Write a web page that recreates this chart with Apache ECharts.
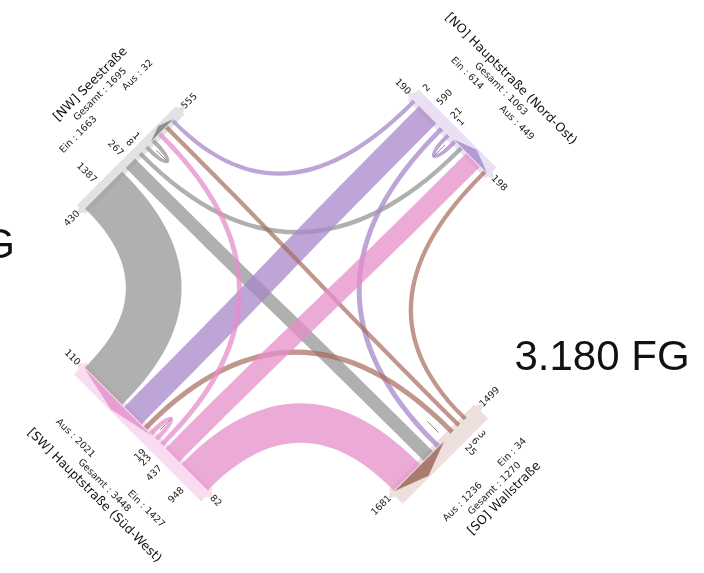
<!DOCTYPE html>
<html><head><meta charset="utf-8">
<script src="https://cdn.jsdelivr.net/npm/echarts@6/dist/echarts.min.js"></script>
<style>html,body{margin:0;padding:0;background:#fff}#c{width:704px;height:573px}</style>
</head><body><div id="c"></div>
<script>
// ---------------- data ----------------
const armNames = ['[NW] Seestraße', '[NO] Hauptstraße (Nord-Ost)', '[SO] Wallstraße', '[SW] Hauptstraße (Süd-West)'];
// flows from each arm, to [NW, NO, SO, SW]
const fromNW = [1, 8, 267, 1387];
const fromNO = [2, 1, 21, 590];
const fromSO = [6, 3, 0, 25];
const fromSW = [23, 437, 948, 19];
const endLabelsEin = [430, 190, 1499, 82];
const endLabelsAus = [555, 198, 1681, 110];
const fgTexts = ['3.180 FG', 'FG'];

// ---------------- layout / style ----------------
const M = [fromNW, fromNO, fromSO, fromSW];
const S2 = Math.SQRT2;
const L = {
  center: [298, 292],
  dist: [209.5, 217, 208, 204],
  gap: [5, 5, 5, 3],
  bandIn: 4,
  minHalf: 45,
  einAlong: [-44, -35, -38, -46],
  ausAlong: [40, 35, 32, 54]
};
const T_ = [[1,-1],[1,1],[-1,1],[-1,-1]].map(v => [v[0]/S2, v[1]/S2]);
const N_ = [[1,1],[-1,1],[-1,-1],[1,-1]].map(v => [v[0]/S2, v[1]/S2]);
const flowCol = ['rgba(150,150,150,0.75)', 'rgba(168,135,202,0.75)', 'rgba(165,105,92,0.7)', 'rgba(230,142,202,0.75)'];
const bandCol = ['#e2e2e2', '#e9e0f2', '#ecdfdc', '#f7ddef'];
const wedgeCol = ['rgba(135,135,135,0.9)', 'rgba(175,145,210,0.9)', 'rgba(165,112,100,0.9)', 'rgba(232,150,206,0.9)'];
const FONT = '"DejaVu Sans", sans-serif';

function widthOf(v) { return v > 0 ? 4 + 0.035 * v : 0; }
function P(i, along, depth) {
  const c = L.center, d = L.dist[i], t = T_[i], n = N_[i];
  return [c[0] - n[0]*d + t[0]*along + n[0]*depth, c[1] - n[1]*d + t[1]*along + n[1]*depth];
}
// stacking of flows along each arm (distance from the Ein/Aus boundary)
const ein = [[],[],[],[]], aus = [[],[],[],[]], einExt = [], ausExt = [];
for (let i = 0; i < 4; i++) {
  const g = L.gap[i];
  let pos = g / 2;
  for (const k of [0,1,2,3]) { const j = (i+k)%4; const w = widthOf(M[i][j]); ein[i][j] = [pos, pos+w]; pos += w + g; }
  einExt[i] = pos - g;
  pos = g / 2;
  for (const k of [0,3,2,1]) { const s = (i+k)%4; const w = widthOf(M[s][i]); aus[i][s] = [pos, pos+w]; pos += w + g; }
  ausExt[i] = pos - g;
}
const bandE = einExt.map(e => Math.max(e + 3, L.minHalf));
const bandA = ausExt.map(e => Math.max(e + 3, L.minHalf));
const sum = a => a.reduce((x, y) => x + y, 0);
const einTot = M.map(r => sum(r));
const ausTot = [0,1,2,3].map(i => sum(M.map(r => r[i])));
const share = [0,1,2,3].map(i => ausTot[i] / (einTot[i] + ausTot[i]));
const bandOut = share.map(s => -(8 + 8 * s));

const flowData = [];
for (let i = 0; i < 4; i++) for (let j = 0; j < 4; j++) if (M[i][j] > 0) flowData.push([i, j, M[i][j]]);

function readRot(v) { const r = v[0] > 0 || (v[0] === 0 && v[1] < 0) ? v : [-v[0], -v[1]]; return { r, rot: -Math.atan2(r[1], r[0]) }; }
function txt(p, str, rot, align, size, color) {
  return { type: 'text', x: p[0], y: p[1], rotation: rot,
    style: { text: String(str), fill: color || '#222', font: size + 'px ' + FONT,
      align: align, verticalAlign: 'middle', textAlign: align, textVerticalAlign: 'middle' } };
}
const pstr = p => p[0].toFixed(2) + ' ' + p[1].toFixed(2);
const dist = (a, b) => Math.hypot(a[0]-b[0], a[1]-b[1]);

function renderFlow(params, api) {
  const i = api.value(0), j = api.value(1);
  const cv = p => api.coord(p);
  const [e0, e1] = ein[i][j], [a0, a1] = aus[j][i];
  const d0 = 0, dc = L.bandIn;
  const Afo = P(i, -e1, d0), Afi = P(i, -e1, dc), Ano = P(i, -e0, d0), Ani = P(i, -e0, dc);
  const Bfo = P(j, a1, d0), Bfi = P(j, a1, dc), Bno = P(j, a0, d0), Bni = P(j, a0, dc);
  let k1, k2;
  if (i === j) { k1 = 30; k2 = Math.max(4, 30 - 1.4 * (e1 - e0)); }
  else { k1 = 0.47 * dist(Afi, Bfi); k2 = 0.47 * dist(Ani, Bni); }
  const ni = N_[i], nj = N_[j];
  const c1 = [Afi[0]+ni[0]*k1, Afi[1]+ni[1]*k1], c2 = [Bfi[0]+nj[0]*k1, Bfi[1]+nj[1]*k1];
  const c3 = [Bni[0]+nj[0]*k2, Bni[1]+nj[1]*k2], c4 = [Ani[0]+ni[0]*k2, Ani[1]+ni[1]*k2];
  const q = [Afo, Afi, c1, c2, Bfi, Bfo, Bno, Bni, c3, c4, Ani, Ano].map(cv).map(pstr);
  const d = `M${q[0]} L${q[1]} C${q[2]} ${q[3]} ${q[4]} L${q[5]} L${q[6]} L${q[7]} C${q[8]} ${q[9]} ${q[10]} L${q[11]} Z`;
  return { type: 'path', shape: { pathData: d }, style: { fill: flowCol[i], stroke: null } };
}

function renderArmBase(params, api) {
  const i = api.value(0);
  const cv = p => api.coord(p);
  const e = bandE[i], a = bandA[i], o = bandOut[i], n = L.bandIn;
  const band = [P(i,-e,o), P(i,a,o), P(i,a,n), P(i,-e,n)].map(cv);
  const mk1 = [P(i,-e,-6), P(i,-e,2), P(i,-e-6,-2)].map(cv);
  const mk2 = [P(i,a,-6), P(i,a,2), P(i,a+6,-2)].map(cv);
  return { type: 'group', children: [
    { type: 'polygon', shape: { points: band }, style: { fill: bandCol[i] } },
    { type: 'polygon', shape: { points: mk1 }, style: { fill: bandCol[i] } },
    { type: 'polygon', shape: { points: mk2 }, style: { fill: bandCol[i] } }
  ] };
}

function renderArmTop(params, api) {
  const i = api.value(0);
  const cv = p => api.coord(p);
  const ch = [];
  const g = L.gap[i];
  // Aus arrow
  const w = [P(i, g/2, -1), P(i, ausExt[i], -1), P(i, (g/2 + ausExt[i]) / 2, bandOut[i] + 1.5)].map(cv);
  ch.push({ type: 'polygon', shape: { points: w }, style: { fill: wedgeCol[i] } });
  // divider line between Ein and Aus
  const l0 = cv(P(i, 0, 9)), l1 = cv(P(i, 0, 25));
  ch.push({ type: 'line', shape: { x1: l0[0], y1: l0[1], x2: l1[0], y2: l1[1] }, style: { stroke: '#8c8c8c', lineWidth: 1 } });
  // arm-aligned texts
  const t = T_[i], n = N_[i];
  const A = readRot(t);
  const dotv = (u, v) => u[0]*v[0] + u[1]*v[1];
  const alEin = dotv([-t[0], -t[1]], A.r) > 0 ? 'left' : 'right';
  const alAus = dotv(t, A.r) > 0 ? 'left' : 'right';
  ch.push(txt(cv(P(i, -bandE[i] - 4, -2)), endLabelsEin[i], A.rot, alEin, 9.5));
  ch.push(txt(cv(P(i, bandA[i] + 4, -2)), endLabelsAus[i], A.rot, alAus, 9.5));
  ch.push(txt(cv(P(i, 0, -84)), armNames[i], A.rot, 'center', 12.5, '#111'));
  ch.push(txt(cv(P(i, 0, -70)), 'Gesamt : ' + (einTot[i] + ausTot[i]), A.rot, 'center', 9.5));
  ch.push(txt(cv(P(i, L.einAlong[i], -57)), 'Ein : ' + einTot[i], A.rot, 'center', 9.5));
  ch.push(txt(cv(P(i, L.ausAlong[i], -57)), 'Aus : ' + ausTot[i], A.rot, 'center', 9.5));
  // flow labels (normal-aligned)
  const on = [-n[0], -n[1]];
  const B = readRot(on);
  const alF = dotv(on, B.r) > 0 ? 'left' : 'right';
  for (let j = 0; j < 4; j++) {
    if (M[i][j] <= 0) continue;
    const mid = -(ein[i][j][0] + ein[i][j][1]) / 2;
    ch.push(txt(cv(P(i, mid, bandOut[i] - 4)), M[i][j], B.rot, alF, 9.5));
  }
  return { type: 'group', children: ch };
}

const chart = echarts.init(document.getElementById('c'), null, { renderer: 'canvas' });
chart.setOption({
  animation: false,
  backgroundColor: '#ffffff',
  grid: { left: 0, right: 0, top: 0, bottom: 0 },
  xAxis: { type: 'value', min: 0, max: 704, show: false },
  yAxis: { type: 'value', min: 0, max: 573, inverse: true, show: false },
  graphic: [
    { type: 'text', x: 602, y: 358, style: { text: fgTexts[0], font: '42px "Liberation Sans", Arial, sans-serif', fill: '#111', align: 'center', verticalAlign: 'middle', textAlign: 'center', textVerticalAlign: 'middle' } },
    { type: 'text', x: 15, y: 246, style: { text: fgTexts[1], font: '42px "Liberation Sans", Arial, sans-serif', fill: '#111', align: 'right', verticalAlign: 'middle', textAlign: 'right', textVerticalAlign: 'middle' } }
  ],
  series: [
    { type: 'custom', coordinateSystem: 'cartesian2d', z: 1, silent: true, data: [[0,0],[1,0],[2,0],[3,0]], renderItem: renderArmBase },
    { type: 'custom', coordinateSystem: 'cartesian2d', z: 2, silent: true, data: flowData, renderItem: renderFlow },
    { type: 'custom', coordinateSystem: 'cartesian2d', z: 3, silent: true, data: [[0,0],[1,0],[2,0],[3,0]], renderItem: renderArmTop }
  ]
});
</script>
</body></html>
